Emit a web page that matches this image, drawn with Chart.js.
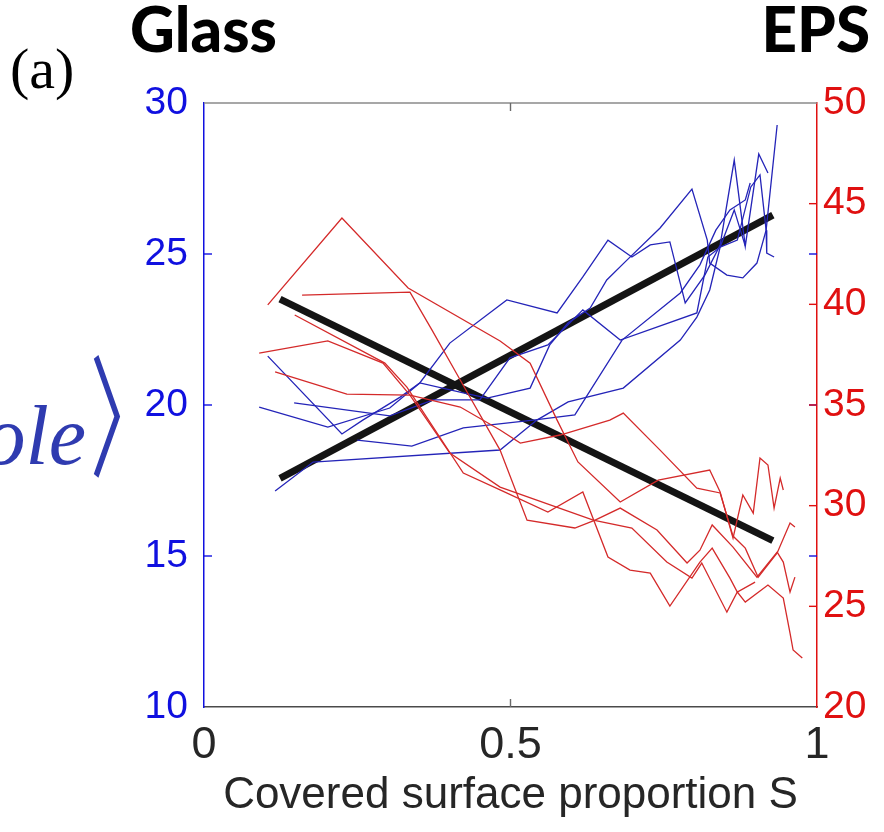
<!DOCTYPE html>
<html>
<head>
<meta charset="utf-8">
<script src="https://cdn.jsdelivr.net/npm/chart.js@4.4.1/dist/chart.umd.min.js"></script>
<style>
  html, body { margin: 0; padding: 0; background: #ffffff; }
  canvas { display: block; }
</style>
</head>
<body>
<canvas id="chart" width="884" height="832"></canvas>
<script>
// Glass substrate runs: mean hole size vs covered surface proportion S (left axis)
const glass1S = [0.090,0.202,0.303,0.352,0.401,0.494,0.576,0.618,0.659,0.698,0.728,0.760,0.785,0.817,0.842,0.865,0.883,0.905,0.920];
const glass1V = [19.93,19.27,19.90,20.73,22.05,23.48,23.05,24.24,25.46,24.90,25.30,25.40,23.38,24.30,25.30,28.11,25.26,28.31,27.68];
const glass2S = [0.104,0.225,0.259,0.320,0.352,0.423,0.462,0.532,0.564,0.594,0.630,0.657,0.687,0.744,0.796,0.821,0.825,0.853,0.879,0.902,0.917,0.935];
const glass2V = [21.62,19.04,19.50,20.26,20.73,20.40,20.23,20.56,21.99,22.72,23.21,24.14,24.74,25.86,27.15,25.46,24.70,24.30,24.21,24.70,25.79,29.27];
const glass3S = [0.147,0.303,0.374,0.450,0.499,0.561,0.618,0.679,0.804,0.822,0.842,0.870,0.892,0.907,0.917,0.918,0.930];
const glass3V = [20.07,19.64,20.17,20.17,21.56,21.99,23.15,22.15,23.05,24.90,25.23,25.46,27.22,27.62,25.79,25.03,24.90];
const glass4S = [0.116,0.178,0.483,0.543,0.594,0.684,0.777,0.804,0.825,0.842,0.865,0.883];
const glass4V = [17.15,18.11,18.51,19.50,20.10,20.56,22.15,22.91,23.81,25.23,26.46,25.26];
const glass5S = [0.250,0.339,0.423,0.537,0.605,0.682,0.777,0.809,0.835,0.858,0.883,0.891];
const glass5V = [18.84,18.64,19.24,19.50,19.67,22.15,23.71,24.64,25.79,26.46,26.79,27.35];

// EPS substrate runs (right axis)
const eps1S = [0.104,0.225,0.333,0.483,0.532,0.576,0.610,0.679,0.741,0.825,0.842,0.863,0.879,0.896,0.907,0.920,0.930,0.940,0.945];
const eps1V = [39.97,44.29,40.81,38.18,37.08,34.25,32.17,30.18,31.27,31.77,30.68,28.39,30.53,29.63,32.37,32.02,29.88,31.37,30.78];
const eps2S = [0.160,0.336,0.372,0.418,0.483,0.527,0.605,0.638,0.679,0.739,0.788,0.809,0.829,0.863,0.902,0.935,0.945,0.956,0.964];
const eps2V = [40.46,40.61,38.72,36.24,32.76,29.28,28.89,29.28,29.88,28.79,27.15,27.79,29.04,27.94,26.45,27.69,27.20,25.71,26.45];
const eps3S = [0.148,0.295,0.331,0.423,0.483,0.561,0.618,0.659,0.695,0.728,0.760,0.809,0.829,0.858,0.870,0.899];
const eps3V = [39.47,37.08,35.89,31.62,30.78,29.68,30.68,27.45,26.80,26.65,25.01,27.20,27.89,26.40,25.71,26.20];
const eps4S = [0.090,0.202,0.292,0.336,0.401,0.483,0.635,0.698,0.755,0.796,0.812,0.853,0.870,0.883,0.920,0.945,0.956,0.961,0.976];
const eps4V = [37.58,38.18,37.08,35.49,32.61,30.92,29.28,28.89,27.20,26.40,27.15,24.71,25.71,25.21,26.06,25.41,23.67,22.83,22.43];
const eps5S = [0.116,0.233,0.336,0.418,0.483,0.516,0.581,0.662,0.684,0.744,0.804,0.842,0.863,0.883,0.904,0.935,0.956,0.964];
const eps5V = [36.64,35.54,35.49,34.90,33.76,33.11,33.51,34.25,34.60,32.76,30.87,30.63,28.49,27.89,26.45,27.65,29.14,28.94];

// Linear trends for each substrate
const fitS = [0.124, 0.928];
const glassFitV = [17.57, 26.29];
const epsFitV = [40.26, 28.26];

// Axis ticks
const sTicks = [0, 0.5, 1];
const glassTicks = [10, 15, 20, 25, 30];
const epsTicks = [20, 25, 30, 35, 40, 45, 50];

const BLUE_LINE = '#2424b8';
const RED_LINE = '#d42a2a';
const BLUE_AXIS = '#1010e0';
const RED_AXIS = '#e01010';

function pts(xs, ys) { return xs.map((x, i) => ({ x: x, y: ys[i] })); }

function run(xs, ys, color, axis) {
  return { data: pts(xs, ys), borderColor: color, borderWidth: 1.3, yAxisID: axis,
           pointRadius: 0, tension: 0, fill: false };
}

const datasets = [
  run(eps1S, eps1V, RED_LINE, 'yEps'),
  run(eps2S, eps2V, RED_LINE, 'yEps'),
  run(eps3S, eps3V, RED_LINE, 'yEps'),
  run(eps4S, eps4V, RED_LINE, 'yEps'),
  run(eps5S, eps5V, RED_LINE, 'yEps'),
  run(glass1S, glass1V, BLUE_LINE, 'yGlass'),
  run(glass2S, glass2V, BLUE_LINE, 'yGlass'),
  run(glass3S, glass3V, BLUE_LINE, 'yGlass'),
  run(glass4S, glass4V, BLUE_LINE, 'yGlass'),
  run(glass5S, glass5V, BLUE_LINE, 'yGlass'),
  { data: pts(fitS, glassFitV), borderColor: '#141414', borderWidth: 7, yAxisID: 'yGlass',
    pointRadius: 0, borderCapStyle: 'butt' },
  { data: pts(fitS, epsFitV), borderColor: '#141414', borderWidth: 7, yAxisID: 'yEps',
    pointRadius: 0, borderCapStyle: 'butt' }
];

// Box outline, inward tick marks and the panel annotations
const decorations = {
  id: 'decorations',
  afterDraw(chart) {
    const { ctx, chartArea: a, scales } = chart;
    const tick = 8;
    ctx.save();
    ctx.lineWidth = 1.4;
    // top edge of the box
    ctx.strokeStyle = '#8a8a8a';
    ctx.beginPath(); ctx.moveTo(a.left, a.top); ctx.lineTo(a.right, a.top); ctx.stroke();
    // S ticks on bottom and top
    sTicks.forEach(v => {
      if (v === 0 || v === 1) return;
      const px = scales.x.getPixelForValue(v);
      ctx.strokeStyle = '#6a6a6a';
      ctx.beginPath(); ctx.moveTo(px, a.bottom); ctx.lineTo(px, a.bottom - tick); ctx.stroke();
      ctx.beginPath(); ctx.moveTo(px, a.top); ctx.lineTo(px, a.top + tick); ctx.stroke();
    });
    // glass ticks on both sides
    glassTicks.forEach(v => {
      if (v === 10 || v === 30) return;
      const py = scales.yGlass.getPixelForValue(v);
      ctx.strokeStyle = BLUE_AXIS;
      ctx.beginPath(); ctx.moveTo(a.left, py); ctx.lineTo(a.left + tick, py); ctx.stroke();
      ctx.beginPath(); ctx.moveTo(a.right, py); ctx.lineTo(a.right - tick, py); ctx.stroke();
    });
    // EPS ticks on the right side
    epsTicks.forEach(v => {
      if (v === 20 || v === 50) return;
      const py = scales.yEps.getPixelForValue(v);
      ctx.strokeStyle = RED_AXIS;
      ctx.beginPath(); ctx.moveTo(a.right, py); ctx.lineTo(a.right - tick, py); ctx.stroke();
    });

    // substrate headings
    ctx.fillStyle = '#000000';
    ctx.textBaseline = 'alphabetic';
    let size = 60;
    ctx.font = '900 ' + size + 'px Lato';
    size = size * 147 / ctx.measureText('Glass').width;
    ctx.font = '900 ' + size.toFixed(1) + 'px Lato';
    ctx.textAlign = 'left';
    ctx.fillText('Glass', 130, 52);
    ctx.textAlign = 'right';
    ctx.fillText('EPS', 870, 52);

    // panel letter
    ctx.font = '58px "Liberation Serif"';
    ctx.textAlign = 'left';
    ctx.fillText('(a)', 10, 88);

    // left axis quantity (partly outside the page)
    ctx.fillStyle = '#2f3bb0';
    ctx.font = 'italic 84px "Liberation Serif"';
    ctx.textAlign = 'right';
    ctx.fillText('hole', 86, 464);
    // tall, narrow closing angle bracket
    ctx.save();
    ctx.translate(90, 466);
    ctx.scale(0.6, 1.08);
    ctx.font = '122px "Noto Sans CJK JP"';
    ctx.textAlign = 'left';
    ctx.fillText('\u3009', 0, 0);
    ctx.restore();
    ctx.restore();
  }
};

new Chart(document.getElementById('chart'), {
  type: 'line',
  data: { datasets: datasets },
  plugins: [decorations],
  options: {
    responsive: false,
    animation: false,
    devicePixelRatio: 1,
    layout: { padding: { top: 103, left: 0, right: 0, bottom: 0 } },
    plugins: { legend: { display: false }, tooltip: { enabled: false } },
    scales: {
      x: {
        type: 'linear', position: 'bottom', min: 0, max: 1,
        afterFit: s => { s.height = 125; },
        afterBuildTicks: s => { s.ticks = sTicks.map(v => ({ value: v })); },
        grid: { display: false, drawTicks: false },
        border: { display: true, color: '#4a4a4a', width: 1.5 },
        ticks: { color: '#262626', padding: 12, maxRotation: 0,
                 font: { family: 'Liberation Sans', size: 45 },
                 callback: v => String(v) },
        title: { display: true, text: 'Covered surface proportion S', color: '#262626',
                 font: { family: 'Liberation Sans', size: 44 }, padding: { top: 0, bottom: 10 } }
      },
      yGlass: {
        type: 'linear', position: 'left', min: 10, max: 30,
        afterFit: s => { s.width = 204; },
        afterBuildTicks: s => { s.ticks = glassTicks.map(v => ({ value: v })); },
        grid: { display: false, drawTicks: false },
        border: { display: true, color: BLUE_AXIS, width: 1.5 },
        ticks: { color: BLUE_AXIS, padding: 16, font: { family: 'Liberation Sans', size: 39 } }
      },
      yEps: {
        type: 'linear', position: 'right', min: 20, max: 50,
        afterFit: s => { s.width = 67; },
        afterBuildTicks: s => { s.ticks = epsTicks.map(v => ({ value: v })); },
        grid: { display: false, drawTicks: false },
        border: { display: true, color: RED_AXIS, width: 1.5 },
        ticks: { color: RED_AXIS, padding: 6, font: { family: 'Liberation Sans', size: 39 } }
      }
    }
  }
});
</script>
</body>
</html>
